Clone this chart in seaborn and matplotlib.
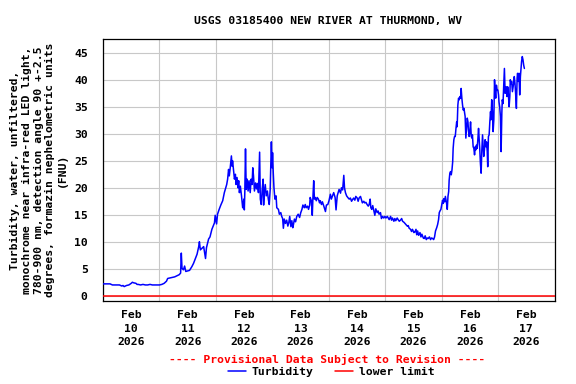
import matplotlib
matplotlib.use("Agg")
import matplotlib.pyplot as plt
import matplotlib.dates as mdates
import numpy as np
import pandas as pd
import seaborn as sns

# ---------------- data ----------------
title = "USGS 03185400 NEW RIVER AT THURMOND, WV"
ylabel = ("Turbidity, water, unfiltered,\n"
          "monochrome near infra-red LED light,\n"
          "780-900 nm, detection angle 90 +-2.5\n"
          "degrees, formazin nephelometric units\n"
          "(FNU)")
start_time = "2026-02-10 00:00"
end_time = "2026-02-18 00:00"
lower_limit = 0.0

# hours after Feb 10 00:00 and turbidity (FNU)
hours_feb10_11 = [0, 1, 2, 3, 4, 5, 6, 7, 8, 8.5, 9, 10, 11, 12, 12.5, 13, 14, 14.5, 15, 16, 17, 18, 19, 20,
                  21, 22, 23, 24, 25, 26, 27, 27.5, 28.5, 29.5, 30.5, 31.4, 32.4, 33.0, 33.3, 33.6, 34.2, 34.7,
                  35.2, 36.0, 36.8, 37.8, 38.5, 39.3, 40.0, 40.7, 41.0, 41.4, 42.1, 42.8, 43.6, 44.0, 44.9,
                  45.5, 46.3, 47.4, 47.7, 48.3, 48.7]
turb_feb10_11 = [2.3, 2.3, 2.3, 2.3, 2.1, 2.1, 2.1, 2.1, 1.9, 2.0, 1.8, 2.0, 2.1, 2.4, 2.6, 2.5, 2.4, 2.2, 2.2,
                 2.1, 2.2, 2.1, 2.1, 2.2, 2.1, 2.1, 2.1, 2.1, 2.2, 2.4, 2.8, 3.3, 3.4, 3.5, 3.6, 3.8, 4.0, 4.3,
                 8.0, 5.2, 4.9, 5.6, 4.6, 4.7, 4.8, 5.5, 6.1, 7.0, 7.8, 9.2, 10.1, 8.6, 8.9, 9.2, 7.0, 9.0,
                 10.6, 11.0, 12.4, 13.6, 15.0, 13.4, 15.2]

hours_feb12 = [49.4, 50.1, 50.9, 51.6, 52.0, 52.6, 53.0, 53.4, 53.7, 54.1, 54.6, 54.9, 55.1, 55.6, 55.9, 56.3,
               56.6, 57.0, 57.4, 57.7, 58.0, 58.4, 58.9, 59.4, 59.9, 60.1, 60.3, 60.6, 60.9, 61.3, 61.7, 62.1,
               62.6, 63.0, 63.4, 63.7, 64.0, 64.4, 64.9, 65.3, 65.7, 66.1, 66.6, 66.9, 67.3, 67.7, 68.1, 68.3,
               68.6, 69.0, 69.4, 69.9, 70.3, 70.7, 71.1, 71.6, 71.9, 72.1, 72.4, 72.7, 73.1, 73.6, 73.9, 74.6]
turb_feb12 = [16.1, 16.9, 17.7, 19.2, 19.8, 20.7, 21.7, 23.5, 22.3, 23.8, 26.0, 24.1, 25.1, 22.9, 21.7, 22.6,
              20.7, 22.0, 20.1, 21.4, 19.2, 20.4, 18.6, 16.4, 18.0, 16.0, 19.2, 27.3, 19.8, 21.7, 19.5, 21.4,
              19.2, 21.7, 20.7, 23.8, 22.3, 19.5, 21.0, 19.9, 20.9, 19.2, 26.7, 18.0, 17.0, 19.8, 21.7, 16.9,
              19.2, 20.7, 18.6, 19.5, 18.0, 17.0, 19.8, 28.6, 23.8, 26.6, 22.9, 20.1, 18.0, 18.6, 16.4, 16.1]

hours_feb13_14 = [75.0, 75.6, 76.0, 76.4, 76.7, 77.1, 77.6, 78.1, 78.6, 79.0, 79.4, 79.9, 80.3, 80.7, 81.0,
                  81.4, 81.9, 82.4, 83.0, 83.6, 84.1, 84.6, 85.0, 85.6, 86.0, 86.4, 87.0, 87.4, 87.9, 88.1,
                  88.6, 89.0, 89.3, 89.6, 89.9, 90.3, 90.7, 91.1, 91.6, 92.1, 92.4, 92.9, 93.3, 93.9, 94.6,
                  95.0, 95.6, 96.1, 96.7, 97.1, 97.6, 98.1, 98.7, 99.1, 99.6, 100.0, 100.4, 101.0, 101.4,
                  101.9, 102.4, 102.7, 103.1, 103.6, 104.1, 104.7]
turb_feb13_14 = [15.2, 15.5, 14.8, 14.4, 12.6, 14.3, 13.5, 14.1, 13.0, 13.6, 14.8, 12.9, 14.0, 12.7, 13.3,
                 14.3, 13.8, 14.8, 15.2, 14.6, 15.5, 16.1, 16.9, 16.4, 17.0, 16.4, 16.7, 16.1, 16.9, 18.3,
                 17.7, 15.0, 18.6, 21.4, 18.0, 18.3, 17.7, 18.3, 18.0, 17.3, 17.7, 17.0, 17.5, 16.7, 15.7,
                 16.9, 17.0, 17.7, 18.9, 18.0, 18.6, 19.2, 18.3, 16.0, 18.6, 19.2, 19.8, 19.1, 20.1,
                 19.7, 22.4, 20.1, 19.2, 18.6, 18.3, 18.0]

hours_feb14_15 = [105.2, 105.7, 106.1, 106.6, 107.1, 107.5, 108.1, 108.5, 108.9, 109.5, 109.9, 110.3, 110.9,
                  111.3, 111.8, 112.3, 112.8, 113.2, 113.6, 113.9, 114.3, 114.7, 115.2, 115.6, 116.0, 116.6,
                  117.0, 117.4, 118.0, 118.4, 118.9, 119.4, 119.9, 120.3, 120.9, 121.3, 121.7, 122.3, 122.7,
                  123.1, 123.7, 124.1, 124.5, 125.1, 125.5, 126.0, 126.5, 127.0, 127.4, 128.0, 128.4, 128.8,
                  129.4, 129.8, 130.2, 130.8, 131.2, 131.6, 132.2, 132.6, 133.1, 133.4, 133.8, 134.2, 134.8,
                  135.2, 135.6, 136.2, 136.6, 137.0, 137.5, 137.9, 138.3, 138.8, 139.3, 139.7, 140.2, 140.6,
                  141.0, 141.4, 141.9, 142.3, 142.7, 143.0, 143.3, 143.7]
turb_feb14_15 = [18.2, 17.6, 17.9, 18.2, 17.8, 18.5, 18.2, 17.6, 18.2, 18.5, 17.9, 17.3, 17.6,
                 17.3, 17.4, 17.0, 16.7, 17.0, 18.0, 16.4, 16.1, 16.8, 15.8, 15.0, 16.2, 15.5,
                 15.8, 15.2, 15.5, 14.4, 14.8, 14.5, 14.8, 14.5, 14.8, 14.5, 14.2, 14.8, 14.1,
                 14.5, 13.9, 14.4, 14.0, 14.5, 14.2, 13.9, 14.1, 14.4, 13.9, 13.7, 13.5, 13.3,
                 13.0, 13.1, 12.6, 12.4, 12.0, 12.4, 11.8, 11.9, 12.4, 11.4, 12.1, 11.3, 11.8,
                 11.0, 11.5, 10.8, 10.7, 11.2, 10.5, 10.8, 10.7, 11.0, 10.5, 10.8, 10.7, 10.5,
                 11.0, 12.1, 12.7, 13.3, 14.2, 15.5, 15.8, 16.1]

hours_feb16_17 = [144.4, 144.7, 145.0, 145.3, 145.6, 145.8, 146.1, 146.4, 146.7, 147.0, 147.2, 147.5, 147.8,
                  148.1, 148.4, 148.7, 148.9, 149.2, 149.5, 149.8, 150.1, 150.4, 150.6, 150.9, 151.2, 151.5,
                  151.8, 152.1, 152.3, 152.6, 152.9, 153.2, 153.5, 153.7, 154.0, 154.3, 154.6, 154.9, 155.2,
                  155.4, 155.7, 156.0, 156.3, 156.6, 156.9, 157.1, 157.4, 157.7, 158.0, 158.3, 158.5, 158.8,
                  159.1, 159.4, 159.7, 160.0, 160.2, 160.5, 160.8, 161.1, 161.4, 161.7, 161.9, 162.2, 162.5,
                  162.8, 163.1, 163.4, 163.6, 163.9, 164.2, 164.5, 164.8, 165.0, 165.3, 165.6, 165.9, 166.2,
                  166.5, 166.7, 167.0, 167.3, 167.6, 167.9, 168.2, 168.4, 168.7, 169.0, 169.3, 169.6, 169.8,
                  170.1, 170.4, 170.7, 171.0, 171.3, 171.5, 171.8, 172.1, 172.4, 172.7, 173.0, 173.2, 173.5,
                  173.8, 174.1, 174.4, 174.6, 174.9, 175.2, 175.5, 175.8, 176.1, 176.3, 176.6, 176.9, 177.2,
                  177.5, 177.8, 178.0, 178.3, 178.6, 178.9, 179.2]
turb_feb16_17 = [17.8, 17.2, 18.1, 17.5, 18.5, 18.0, 17.2, 16.1, 18.5, 19.4, 21.5, 22.8, 23.1,
                 22.5, 23.4, 24.9, 27.4, 29.0, 29.6, 29.6, 31.1, 32.3, 31.4, 35.4, 36.7, 36.4,
                 37.0, 36.7, 38.5, 36.7, 35.4, 34.5, 34.8, 34.2, 33.3, 29.3, 31.1, 33.0, 32.3,
                 30.8, 29.6, 30.5, 32.3, 29.6, 29.3, 29.9, 27.7, 27.4, 26.2, 27.7, 27.1, 28.0,
                 27.4, 29.0, 31.1, 29.0, 27.4, 24.6, 22.8, 27.1, 29.9, 27.7, 25.9, 27.1, 29.0,
                 27.7, 28.6, 26.8, 24.0, 29.6, 29.9, 32.3, 34.2, 32.7, 36.4, 34.2, 30.5, 32.7,
                 40.1, 38.2, 36.7, 39.1, 38.2, 38.2, 37.3, 36.0, 35.1, 33.3, 26.8, 33.9, 36.4,
                 35.7, 38.8, 42.2, 37.6, 38.5, 38.8, 37.0, 38.8, 37.3, 35.1, 37.0, 40.1, 39.4,
                 39.8, 37.9, 38.8, 39.4, 40.7, 39.4, 37.3, 34.8, 40.4, 41.3, 39.8, 41.3, 37.3,
                 40.7, 42.5, 43.5, 44.4, 43.8, 42.8, 42.2]

day_labels = ["Feb\n10\n2026", "Feb\n11\n2026", "Feb\n12\n2026", "Feb\n13\n2026",
              "Feb\n14\n2026", "Feb\n15\n2026", "Feb\n16\n2026", "Feb\n17\n2026"]
y_ticks = [0, 5, 10, 15, 20, 25, 30, 35, 40, 45]

# ---------------- build table ----------------
hours = hours_feb10_11 + hours_feb12 + hours_feb13_14 + hours_feb14_15 + hours_feb16_17
turb = turb_feb10_11 + turb_feb12 + turb_feb13_14 + turb_feb14_15 + turb_feb16_17
t0 = pd.Timestamp(start_time)
df = pd.DataFrame({"time": t0 + pd.to_timedelta(hours, unit="h"), "Turbidity": turb})

# ---------------- style ----------------
sns.set_theme(style="white")
plt.rcParams["font.family"] = ["DejaVu Sans Mono"]
plt.rcParams["font.weight"] = "bold"
for k in ["text.color", "axes.labelcolor", "xtick.color", "ytick.color", "xtick.labelcolor",
          "ytick.labelcolor"]:
    plt.rcParams[k] = "black"
FS = 8.2

W, H = 576, 384
fig = plt.figure(figsize=(W / 100, H / 100), dpi=100)
left, right, top, bottom = 103, 554.5, 39.3, 300.5
ax = fig.add_axes([left / W, 1 - bottom / H, (right - left) / W, (bottom - top) / H])

sns.lineplot(data=df, x="time", y="Turbidity", ax=ax, color="#0000FF", linewidth=1.1,
             label="Turbidity", zorder=3)
ax.axhline(lower_limit, color="#FF0000", linewidth=1.1, label="lower limit", zorder=4)

ax.set_xlim(pd.Timestamp(start_time), pd.Timestamp(end_time))
ax.set_ylim(-0.78, 47.6)

# x axis: gridlines at midnight, labels at noon
ax.xaxis.set_major_locator(mdates.DayLocator())
ax.xaxis.set_major_formatter(plt.NullFormatter())
noon = [pd.Timestamp(start_time) + pd.Timedelta(hours=12 + 24 * i) for i in range(len(day_labels))]
ax.set_xticks(noon, minor=True)
ax.set_xticklabels(day_labels, minor=True, fontsize=FS, fontweight="bold", linespacing=1.45,
                   color="black")
ax.tick_params(axis="x", which="both", length=0)
ax.tick_params(axis="x", which="minor", pad=7)

ax.set_yticks(y_ticks)
ax.set_yticklabels([str(v) for v in y_ticks], fontsize=FS, fontweight="bold", color="black")
ax.tick_params(axis="y", length=0, pad=11)

ax.grid(True, which="major", color="#C8C8C8", linewidth=0.8)
ax.set_axisbelow(True)
for s in ax.spines.values():
    s.set_color("black")
    s.set_linewidth(0.9)
ax.set_xlabel("")
ax.set_ylabel("")

fig.text(328.5 / W, 1 - 21 / H, title, ha="center", va="center", fontsize=FS, fontweight="bold",
         color="black")
fig.text(38.5 / W, 1 - 170 / H, ylabel, rotation=90, ha="center", va="center",
         multialignment="center", fontsize=FS, fontweight="bold", linespacing=1.2, color="black")
fig.text(327.5 / W, 1 - 359 / H, "---- Provisional Data Subject to Revision ----",
         ha="center", va="center", fontsize=FS, fontweight="bold", color="#FF0000")

leg = ax.legend(loc="center", bbox_to_anchor=(331 / W, 1 - 372 / H), bbox_transform=fig.transFigure,
                ncol=2, frameon=False, handlelength=1.6, handletextpad=0.5, columnspacing=1.9,
                prop={"size": FS, "weight": "bold", "family": "DejaVu Sans Mono"},
                borderpad=0, borderaxespad=0)
for t in leg.get_texts():
    t.set_color("black")

fig.savefig("out.png", dpi=100)
